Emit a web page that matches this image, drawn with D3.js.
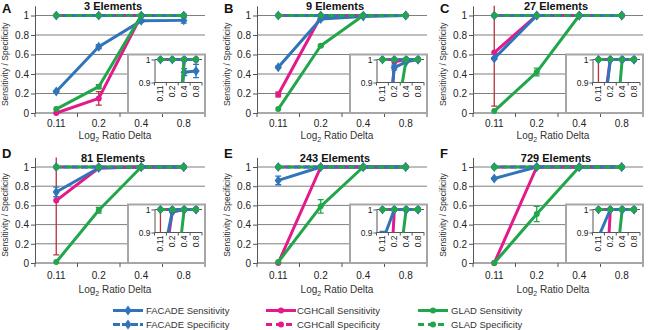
<!DOCTYPE html>
<html>
<head>
<meta charset="utf-8">
<script src="https://cdnjs.cloudflare.com/ajax/libs/d3/7.8.5/d3.min.js"></script>
<style>
  body { margin: 0; background: #fff; }
  svg text { font-family: "Liberation Sans", Arial, sans-serif; }
</style>
</head>
<body>
<div id="chart"></div>
<script>
// categories
var deltas = ["0.11", "0.2", "0.4", "0.8"];
var panelLetters = ["A", "B", "C", "D", "E", "F"];
var panelTitles = ["3 Elements", "9 Elements", "27 Elements", "81 Elements", "243 Elements", "729 Elements"];

// sensitivity per panel (rows) and log2 ratio delta (cols)
var facadeSens = [
  [0.22, 0.68, 0.945, 0.95],
  [0.47, 0.965, 0.99, 1],
  [0.56, 1, 1, 1],
  [0.74, 0.99, 1, 1],
  [0.86, 1, 1, 1],
  [0.88, 1, 1, 1]
];
var facadeErr = [
  [0.01, 0.02, 0.015, 0.029],
  [0.01, 0.01, 0, 0],
  [0.01, 0, 0, 0],
  [0.05, 0, 0, 0],
  [0.045, 0, 0, 0],
  [0.01, 0, 0, 0]
];
var cghSens = [
  [0.0, 0.15, 1, 1],
  [0.19, 0.99, 1, 1],
  [0.62, 1, 1, 1],
  [0.65, 0.99, 1, 1],
  [0.0, 1, 1, 1],
  [0.0, 1, 1, 1]
];
var cghErr = [
  [0, 0.07, 0, 0],
  [0.025, 0, 0, 0],
  [0.55, 0, 0, 0],
  [0.565, 0, 0, 0],
  [0, 0, 0, 0],
  [0, 0, 0, 0]
];
var gladSens = [
  [0.04, 0.27, 1, 1],
  [0.04, 0.69, 1, 1],
  [0.02, 0.42, 1, 1],
  [0.01, 0.55, 1, 1],
  [0.01, 0.59, 1, 1],
  [0.0, 0.51, 1, 1]
];
var gladErr = [
  [0, 0.02, 0, 0],
  [0, 0.01, 0, 0],
  [0, 0.04, 0, 0],
  [0, 0.03, 0, 0],
  [0, 0.07, 0, 0],
  [0, 0.08, 0, 0]
];
// specificity
var facadeSpec = [[1, 1, 1, 1], [1, 1, 1, 1], [1, 1, 1, 1], [1, 1, 1, 1], [1, 1, 1, 1], [1, 1, 1, 1]];
var cghSpec = [[1, 1, 1, 1], [1, 1, 1, 1], [1, 1, 1, 1], [1, 1, 1, 1], [1, 1, 1, 1], [1, 1, 1, 1]];
var gladSpec = [[1, 1, 1, 1], [1, 1, 1, 1], [1, 1, 1, 1], [1, 1, 1, 1], [1, 1, 1, 1], [1, 1, 1, 1]];
var yTicks = [0, 0.2, 0.4, 0.6, 0.8, 1];

var width = 649, height = 330;

var blue = "#3075ba", pink = "#e4198b", green = "#22a64b";

// draw order: CGHCall, FACADE, GLAD (GLAD ends up on top)
var series = [
  {name: "CGHCall", color: pink, errColor: "#b8323a", sens: cghSens, err: cghErr, spec: cghSpec, shape: "circle", dash: "6,4", offset: 5},
  {name: "FACADE", color: blue, errColor: blue, sens: facadeSens, err: facadeErr, spec: facadeSpec, shape: "diamond", dash: "7,2", offset: 2},
  {name: "GLAD", color: green, errColor: green, sens: gladSens, err: gladErr, spec: gladSpec, shape: "circle", dash: "6,4", offset: 0}
];

var colX = [35, 257, 473];
var rows = [
  {top: 15.5, bot: 113, tickDy: 13.5, labDy: 26, titleY: 9.5, letterY: 13},
  {top: 167, bot: 263, tickDy: 15.5, labDy: 29.5, titleY: 161.5, letterY: 158}
];
var titleX = [113, 335, 556];

var svg = d3.select("#chart").append("svg")
  .attr("width", width)
  .attr("height", height);

var axisColor = "#555";

function marker(g, shape, cx, cy, r, color) {
  if (shape == "diamond") {
    g.append("path")
      .attr("d", d3.symbol().type(d3.symbolDiamond).size(r * r * 3.2)())
      .attr("transform", "translate(" + cx + "," + cy + ") scale(1.25,1)")
      .attr("fill", color);
  } else {
    g.append("circle").attr("cx", cx).attr("cy", cy).attr("r", r).attr("fill", color);
  }
}

function drawSeries(g, x, y, p, lw, r) {
  var cx = function(j) { return x(deltas[j]) + x.bandwidth() / 2; };
  var line = d3.line()
    .x(function(d, j) { return cx(j); })
    .y(function(d) { return y(d); });

  series.forEach(function(s) {
    g.append("path")
      .attr("d", line(s.sens[p]))
      .attr("fill", "none")
      .attr("stroke", s.color)
      .attr("stroke-width", lw)
      .attr("stroke-linejoin", "round");
    s.sens[p].forEach(function(v, j) {
      var e = s.err[p][j];
      if (e > 0) {
        var eb = g.append("g").attr("stroke", s.errColor).attr("stroke-width", 1.3);
        eb.append("line").attr("x1", cx(j)).attr("x2", cx(j)).attr("y1", y(v - e)).attr("y2", y(v + e));
        eb.append("line").attr("x1", cx(j) - 3).attr("x2", cx(j) + 3).attr("y1", y(v - e)).attr("y2", y(v - e));
        eb.append("line").attr("x1", cx(j) - 3).attr("x2", cx(j) + 3).attr("y1", y(v + e)).attr("y2", y(v + e));
      }
    });
    s.sens[p].forEach(function(v, j) { marker(g, s.shape, cx(j), y(v), r, s.color); });
  });

  series.forEach(function(s) {
    g.append("path")
      .attr("d", line(s.spec[p]))
      .attr("fill", "none")
      .attr("stroke", s.color)
      .attr("stroke-width", lw)
      .attr("stroke-dasharray", s.dash)
      .attr("stroke-dashoffset", s.offset);
    s.spec[p].forEach(function(v, j) { marker(g, s.shape, cx(j), y(v), r, s.color); });
  });
}

panelTitles.forEach(function(title, p) {
  var col = p % 3, row = rows[Math.floor(p / 3)];
  var x0 = colX[col], x1 = x0 + 170;
  var g = svg.append("g");

  var x = d3.scaleBand().domain(deltas).range([x0, x1]);
  var y = d3.scaleLinear().domain([0, 1.1]).range([row.bot, row.bot - (row.bot - row.top) * 1.1]);

  // gridlines
  g.selectAll(".grid").data(yTicks.slice(1)).enter().append("line")
    .attr("x1", x0).attr("x2", x1)
    .attr("y1", function(d) { return y(d); }).attr("y2", function(d) { return y(d); })
    .attr("stroke", "#7f7f7f").attr("stroke-width", 1);

  // y axis
  var yAxis = g.append("g")
    .attr("transform", "translate(" + x0 + ",0)")
    .call(d3.axisLeft(y).tickValues(yTicks).tickSize(4).tickSizeOuter(0)
      .tickFormat(function(d) { return d == 0 ? "0" : d == 1 ? "1" : d3.format(".1f")(d); }));
  yAxis.select(".domain").attr("stroke", axisColor);
  yAxis.selectAll(".tick line").attr("stroke", axisColor);
  yAxis.selectAll(".tick text").attr("font-size", 10).attr("fill", "#222").attr("x", -6).attr("font-family", null);

  // x axis
  g.append("line").attr("x1", x0).attr("x2", x1).attr("y1", row.bot).attr("y2", row.bot).attr("stroke", axisColor);
  deltas.concat(["end"]).forEach(function(d, j) {
    var tx = j < deltas.length ? x(d) : x1;
    g.append("line").attr("x1", tx).attr("x2", tx).attr("y1", row.bot).attr("y2", row.bot + 4).attr("stroke", axisColor);
  });
  g.selectAll(".xl").data(deltas).enter().append("text")
    .attr("x", function(d) { return x(d) + x.bandwidth() / 2; })
    .attr("y", row.bot + row.tickDy)
    .attr("text-anchor", "middle")
    .attr("font-size", 10).attr("fill", "#222")
    .text(function(d) { return d; });

  // axis titles
  var xt = g.append("text")
    .attr("x", x0 + 80).attr("y", row.bot + row.labDy)
    .attr("text-anchor", "middle").attr("font-size", 10).attr("fill", "#333");
  xt.append("tspan").text("Log");
  xt.append("tspan").attr("font-size", 7).attr("dy", 3).text("2");
  xt.append("tspan").attr("dy", -3).text(" Ratio Delta");

  g.append("text")
    .attr("transform", "translate(" + (x0 - 27) + "," + ((row.top + row.bot) / 2) + ") rotate(-90)")
    .attr("text-anchor", "middle").attr("font-size", 8.5).attr("fill", "#333")
    .text("Sensitivity / Specificity");

  // title and letter
  g.append("text").attr("x", titleX[col]).attr("y", row.titleY)
    .attr("text-anchor", "middle").attr("font-size", 11).attr("font-weight", "bold").attr("fill", "#111")
    .text(title);
  g.append("text").attr("x", x0 - 33).attr("y", row.letterY)
    .attr("font-size", 13).attr("font-weight", "bold").attr("fill", "#111")
    .text(panelLetters[p]);

  // main series
  var clipId = "clip" + p;
  svg.append("clipPath").attr("id", clipId).append("rect")
    .attr("x", x0).attr("y", y(1.1)).attr("width", x1 - x0 + 6).attr("height", row.bot - y(1.1) + 8);
  drawSeries(g.append("g").attr("clip-path", "url(#" + clipId + ")"), x, y, p, 3, 3);

  // inset
  var ix0 = x0 + 93, ix1 = x1, iTop = row.bot - 58.5;
  g.append("rect").attr("x", ix0).attr("y", iTop).attr("width", ix1 - ix0).attr("height", row.bot - iTop)
    .attr("fill", "#fff").attr("stroke", "#a6a6a6").attr("stroke-width", 2);
  var ax0 = ix0 + 26.5, ax1 = ix1 - 3;
  var xi = d3.scaleBand().domain(deltas).range([ax0, ax1]);
  var yi = d3.scaleLinear().domain([0.9, 1]).range([iTop + 28, iTop + 5]);

  g.append("line").attr("x1", ax0).attr("x2", ax1).attr("y1", yi(1)).attr("y2", yi(1)).attr("stroke", "#555");
  var iy = g.append("g")
    .attr("transform", "translate(" + ax0 + ",0)")
    .call(d3.axisLeft(yi).tickValues([0.9, 1]).tickSize(3).tickSizeOuter(0)
      .tickFormat(function(d) { return d == 1 ? "1" : "0.9"; }));
  iy.select(".domain").attr("stroke", axisColor);
  iy.selectAll(".tick line").attr("stroke", axisColor);
  iy.selectAll(".tick text").attr("font-size", 8.5).attr("fill", "#222").attr("x", -4).attr("font-family", null);

  g.append("line").attr("x1", ax0).attr("x2", ax1).attr("y1", yi(0.9)).attr("y2", yi(0.9)).attr("stroke", axisColor);
  deltas.concat(["end"]).forEach(function(d, j) {
    var tx = j < deltas.length ? xi(d) : ax1;
    g.append("line").attr("x1", tx).attr("x2", tx).attr("y1", yi(0.9)).attr("y2", yi(0.9) + 3).attr("stroke", axisColor);
  });
  g.selectAll(".xil").data(deltas).enter().append("text")
    .attr("transform", function(d) {
      return "translate(" + (xi(d) + xi.bandwidth() / 2 + 3) + "," + (yi(0.9) + 3) + ") rotate(-90)";
    })
    .attr("text-anchor", "end").attr("font-size", 8.5).attr("fill", "#222")
    .text(function(d) { return d; });

  var iclipId = "iclip" + p;
  svg.append("clipPath").attr("id", iclipId).append("rect")
    .attr("x", ax0).attr("y", iTop + 1).attr("width", ax1 - ax0).attr("height", yi(0.9) - iTop - 1);
  drawSeries(g.append("g").attr("clip-path", "url(#" + iclipId + ")"), xi, yi, p, 3, 3);
});

// legend
var legendCols = [
  {s: series[1], lx: 113, tx: 146},
  {s: series[0], lx: 266, tx: 297},
  {s: series[2], lx: 418, tx: 451}
];
var legendRows = [{y: 310.5, label: " Sensitivity", dash: null}, {y: 324.5, label: " Specificity", dash: true}];
var legend = svg.append("g");
legendCols.forEach(function(c) {
  legendRows.forEach(function(r) {
    legend.append("line")
      .attr("x1", c.lx).attr("x2", c.lx + 30).attr("y1", r.y).attr("y2", r.y)
      .attr("stroke", c.s.color).attr("stroke-width", 3)
      .attr("stroke-dasharray", r.dash ? c.s.dash : null);
    marker(legend, c.s.shape, c.lx + 15, r.y, 3, c.s.color);
    legend.append("text").attr("x", c.tx).attr("y", r.y + 3.5)
      .attr("font-size", 9.5).attr("fill", "#333")
      .text(c.s.name + r.label);
  });
});
</script>
</body>
</html>
